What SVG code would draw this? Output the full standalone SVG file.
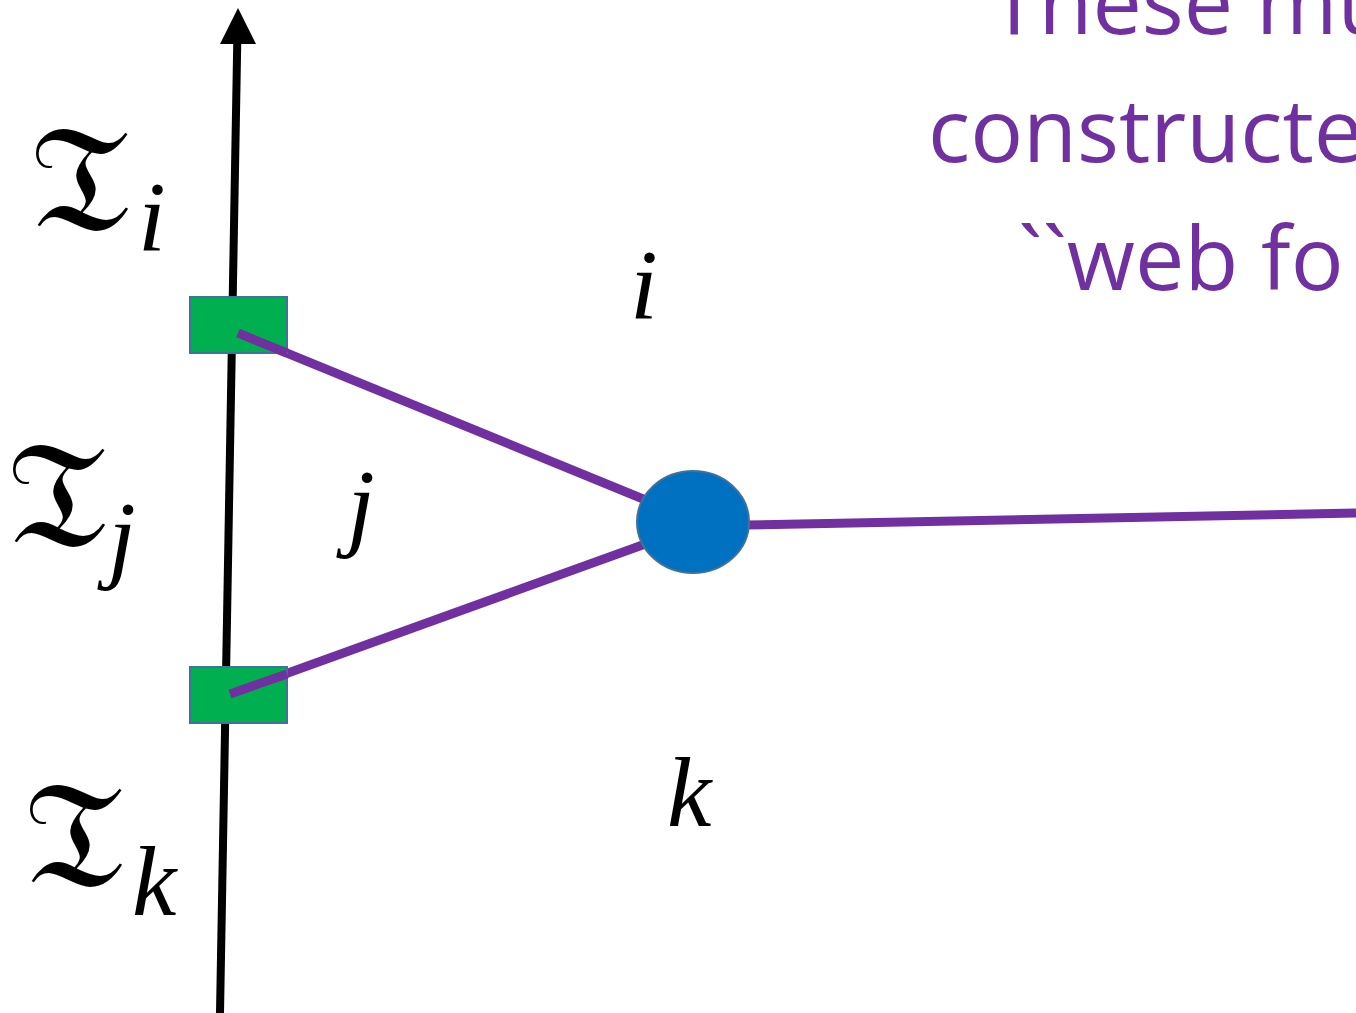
<svg xmlns="http://www.w3.org/2000/svg" width="1356" height="1013" viewBox="0 0 1356 1013">
<style>
.frak{font-family:"DejaVu Sans","Noto Sans",serif;font-size:150px;fill:#000}
.it{font-family:"Liberation Serif","DejaVu Serif",serif;font-style:italic;font-size:100px;fill:#000}
.note{font-family:"Open Sans","Noto Sans",sans-serif;font-size:88px;fill:#7030A0}
.edge{stroke:#7030A0;stroke-width:9;fill:none}
.box{fill:#00B050;stroke:#41719C;stroke-width:2}
</style>
<rect width="1356" height="1013" fill="#fff"/>
<g id="axis">
<line x1="220" y1="1013" x2="237.3" y2="40" stroke="#000" stroke-width="8"/>
<polygon points="238,8 220,44 256,44" fill="#000"/>
</g>
<g id="connectors">
<line class="edge" x1="238" y1="333" x2="648" y2="501"/>
<line class="edge" x1="230" y1="694" x2="648" y2="543"/>
<line class="edge" x1="745" y1="525" x2="1356" y2="513"/>
</g>
<g id="node-top"><rect class="box" x="190" y="297" width="97" height="56"/><line class="edge" x1="238" y1="333" x2="287" y2="353"/></g>
<g id="node-bottom"><rect class="box" x="190" y="667" width="97" height="56"/><line class="edge" x1="230" y1="694" x2="287" y2="674"/></g>
<g id="node-center"><ellipse cx="693" cy="522" rx="56" ry="51" fill="#0070C0" stroke="#41719C" stroke-width="2"/></g>
<g id="labels">
<text class="frak" x="30" y="230">𝔗</text><text class="it" x="138" y="250">i</text>
<text class="frak" x="7" y="546">𝔗</text><text class="it" x="108" y="570">j</text>
<text class="frak" x="24" y="886">𝔗</text><text class="it" x="132" y="915">k</text>
<text class="it" x="630" y="318">i</text>
<text class="it" x="347" y="538">j</text>
<text class="it" x="667" y="826">k</text>
</g>
<g id="note">
<text class="note" x="990" y="34">These mu</text>
<text class="note" x="928" y="162">constructed</text>
<text class="note" x="1018" y="290">``web fo</text>
</g>
</svg>
